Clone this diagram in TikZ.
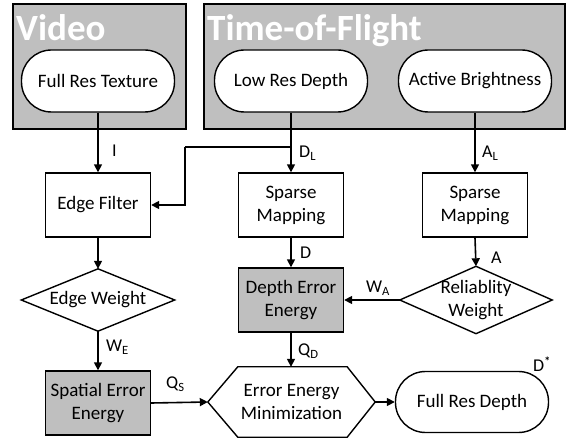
\documentclass[tikz,border=0pt]{standalone}
\usepackage{fontspec}
\setmainfont{Carlito}
\usetikzlibrary{arrows.meta}
\definecolor{panel}{RGB}{191,191,191}
\tikzset{
  x=1pt, y=-1pt,
  every node/.style={font=\fontsize{19}{23}\selectfont, align=center, inner sep=0pt},
  line/.style={line width=1.4pt, draw=black},
  flow/.style={line width=1.6pt, -{Triangle[length=8pt,width=8pt]}},
  pill/.style={line, fill=white, rounded corners=30pt, minimum width=153pt, minimum height=62pt},
  procbox/.style={line, fill=white, minimum width=105pt, minimum height=64pt},
  energybox/.style={line, fill=panel, minimum width=105pt, minimum height=64pt},
  group/.style={line, fill=panel},
  title/.style={font=\fontsize{37}{42}\selectfont\bfseries, text=white, anchor=base west},
  tag/.style={anchor=west, font=\fontsize{18}{21}\selectfont}
}
\begin{document}
\begin{tikzpicture}
\useasboundingbox (0,0) rectangle (574,441);

% input groups
\draw[group] (13,4) rectangle (186,129);
\draw[group] (204,4) rectangle (565,129);
\node[title] (tvid) at (16,41) {Video};
\node[title] (ttof) at (207,41) {Time-of-Flight};

% sources
\node[pill] (tex) at (98,81) {Full Res Texture};
\node[pill] (lrd) at (291,81) {Low Res Depth};
\node[pill] (ab) at (475,81) {Active Brightness};

% processing
\node[procbox] (ef) at (98,205) {Edge Filter};
\node[procbox] (sm1) at (291,205) {Sparse\\Mapping};
\node[procbox] (sm2) at (475,205) {Sparse\\Mapping};

% weights (diamonds)
\node[minimum width=153pt, minimum height=62pt] (ew) at (98,300) {};
\draw[line, fill=white] (ew.north) -- (ew.east) -- (ew.south) -- (ew.west) -- cycle;
\node at (ew) {Edge Weight};
\node[minimum width=152pt, minimum height=67pt] (rw) at (476,300) {};
\draw[line, fill=white] (rw.north) -- (rw.east) -- (rw.south) -- (rw.west) -- cycle;
\node at (rw) {Reliablity\\Weight};

% energies
\node[energybox] (dee) at (291,300) {Depth Error\\Energy};
\node[energybox] (see) at (98,403) {Spatial Error\\Energy};

% minimisation (hexagon)
\node[minimum width=167pt, minimum height=70pt] (emin) at (291.5,402) {};
\draw[line, fill=white] (emin.west) -- ([xshift=30pt]emin.north west) -- ([xshift=-28pt]emin.north east)
  -- (emin.east) -- ([xshift=-28pt]emin.south east) -- ([xshift=30pt]emin.south west) -- cycle;
\node at (emin) {Error Energy\\Minimization};

\node[pill, minimum height=61pt] (frd) at (472,402) {Full Res Depth};

% connectors
\draw[flow] (tex.south) -- (ef.north);
\draw[flow] (lrd.south) -- (sm1.north);
\coordinate (split) at (lrd.south |- 0,147);
\coordinate (bend) at (185,147);
\draw[line width=1.6pt] (split) -- (bend);
\draw[flow] (bend) |- (ef.east);
\draw[flow] (ab.south) -- (sm2.north);
\draw[flow] (ef.south) -- (ew.north);
\draw[flow] (sm1.south) -- (dee.north);
\draw[flow] (sm2.south) -- (rw.north);
\draw[flow] (rw.west) -- (dee.east);
\draw[flow] (ew.south) -- (see.north);
\draw[flow] (dee.south) -- (dee.south |- emin.north);
\draw[flow] (see.east) -- (emin.west);
\draw[flow] (emin.east) -- (frd.west);

% signal labels
\node[tag] (li) at (112,151) {I};
\node[tag] (ldl) at (299,153) {D\textsubscript{L}};
\node[tag] (lal) at (482,153) {A\textsubscript{L}};
\node[tag] (ld) at (300,253) {D};
\node[tag] (la) at (491,258) {A};
\node[tag] (lwa) at (366,288) {W\textsubscript{A}};
\node[tag] (lwe) at (106,347) {W\textsubscript{E}};
\node[tag] (lqs) at (166,384) {Q\textsubscript{S}};
\node[tag] (lqd) at (298,351) {Q\textsubscript{D}};
\node[tag] (lds) at (533,364) {D\textsuperscript{\large\bfseries *}};
\end{tikzpicture}
\end{document}
